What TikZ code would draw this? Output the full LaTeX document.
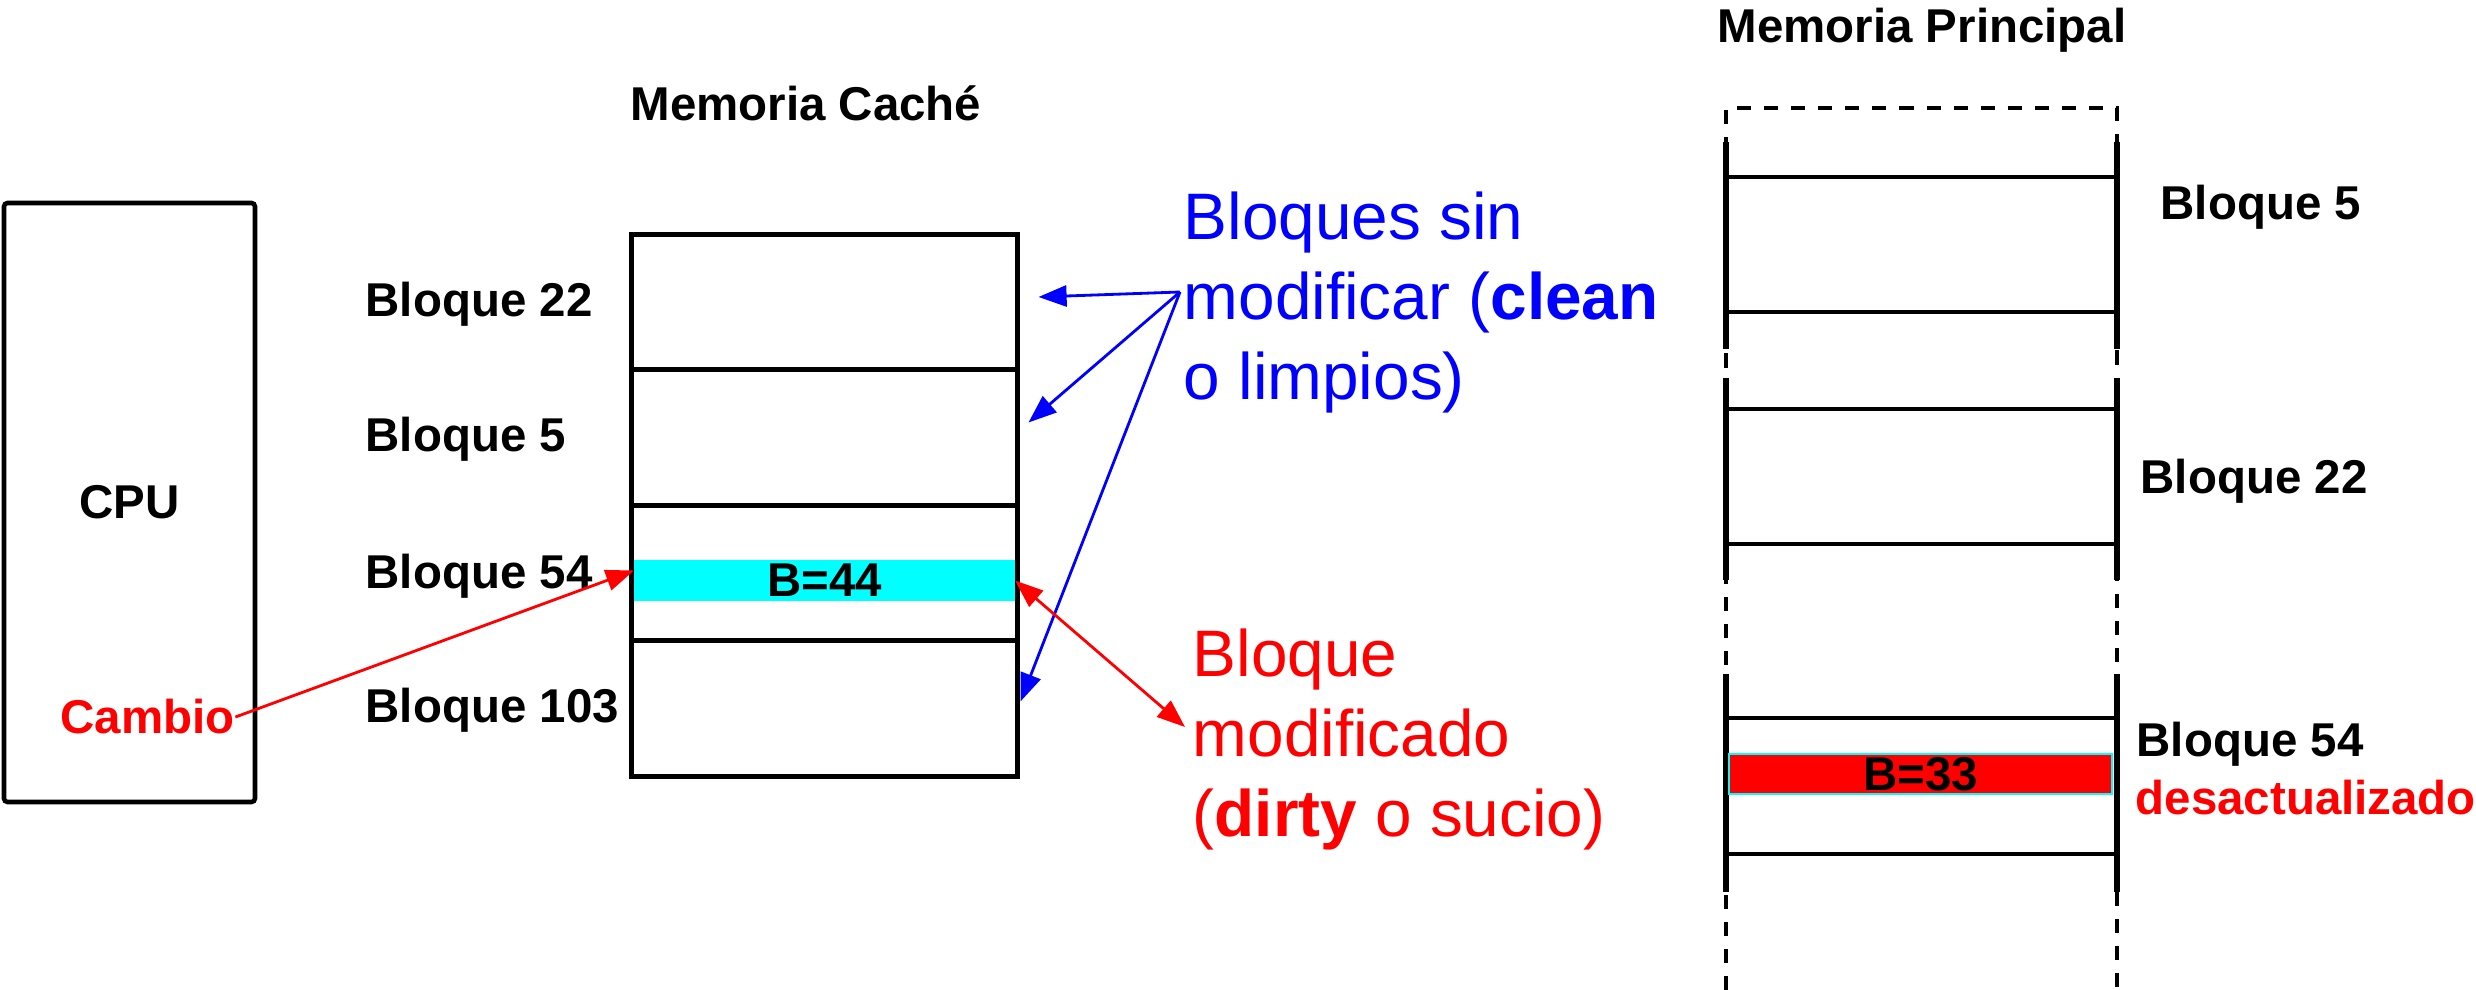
\documentclass[tikz,border=0pt]{standalone}
\usepackage{fontspec}
\setmainfont{Liberation Sans}
\usetikzlibrary{positioning}
\usetikzlibrary{arrows.meta}
\definecolor{aqua}{RGB}{0,255,255}

\begin{document}
\begin{tikzpicture}[
		txt/.style={font=\bfseries\fontsize{13.5}{16}\selectfont},
		lbl/.style={txt, inner sep=0pt, anchor=base west},
		note/.style={font=\fontsize{18.7}{22.8}\selectfont, inner sep=0pt, anchor=base west, align=left},
		row/.style={draw, line width=1.3pt, minimum width=3.86cm, minimum height=1.355cm, inner sep=0pt, outer sep=0pt},
		band/.style={txt, minimum height=0.41cm, inner sep=0pt, outer sep=0pt},
		arr/.style={-{Triangle[length=8pt, width=6pt]}, line width=0.8pt},
	]
		\useasboundingbox (0,0) rectangle (24.76,9.90);
		% CPU
		\node[draw, txt, line width=1.3pt, rounded corners=1pt, minimum width=2.51cm, minimum height=5.99cm] (cpu) at (1.295,4.875) {CPU};
		\node[lbl, text=red] (cambio) at (0.60,2.56) {Cambio};
		% cache
		\node[lbl] (tcache) at (6.30,8.69) {Memoria Caché};
		\node[row] (c1) at (8.245,6.88) {};
		\node[row, below=0pt of c1] (c2) {};
		\node[row, below=0pt of c2] (c3) {};
		\node[row, below=0pt of c3] (c4) {};
		\node[band, fill=aqua, minimum width=3.81cm] (b44) at ([yshift=-0.75mm]c3.center) {B=44};
		\node[lbl] (l22) at (3.65,6.73) {Bloque 22};
		\node[lbl] (l5) at (3.65,5.38) {Bloque 5};
		\node[lbl] (l54) at (3.65,4.01) {Bloque 54};
		\node[lbl] (l103) at (3.65,2.67) {Bloque 103};
		% main memory
		\node[lbl] (tmain) at (17.17,9.47) {Memoria Principal};
		\draw[line width=1.1pt, dash pattern=on 4pt off 3.7pt] (17.26,0) -- (17.26,8.82) -- (21.17,8.82) -- (21.17,0);
		\foreach \ya/\yb/\yc/\yd in {8.48/8.13/6.78/6.41, 6.12/5.81/4.46/4.10, 3.16/2.72/1.36/0.98} {
			\draw[line width=1.6pt] (17.26,\ya) -- (17.26,\yd);
			\draw[line width=1.6pt] (21.17,\ya) -- (21.17,\yd);
			\draw[line width=1.2pt] (17.26,\yb) -- (21.17,\yb);
			\draw[line width=1.2pt] (17.26,\yc) -- (21.17,\yc);
		}
		\node[band, fill=red, draw=aqua, line width=0.4pt, minimum width=3.83cm, minimum height=0.40cm] (b33) at (19.205,2.16) {B=33};
		\node[lbl] (p5) at (21.60,7.70) {Bloque 5};
		\node[lbl] (p22) at (21.40,4.96) {Bloque 22};
		\node[lbl] (p54) at (21.36,2.33) {Bloque 54};
		\node[lbl, text=red] (desact) at (21.35,1.75) {desactualizado};
		% notes (base = last line)
		\node[note, text=blue] (clean) at (11.83,5.90) {Bloques sin\\modificar (\textbf{clean}\\o limpios)};
		\node[note, text=red] (dirty) at (11.92,1.53) {Bloque\\modificado\\(\textbf{dirty} o sucio)};
		\coordinate (cleanfrom) at (11.80,6.98);
		\coordinate (dirtyto) at (11.85,2.63);
		\draw[arr, blue] (cleanfrom) -- ([xshift=2.1mm, yshift=0.5mm]c1.east);
		\draw[arr, blue] (cleanfrom) -- ([xshift=1.1mm, yshift=1.5mm]c2.east);
		\draw[arr, blue] (cleanfrom) -- ([xshift=0.3mm, yshift=0.7mm]c4.east);
		\draw[arr, red, {Triangle[length=8pt, width=6pt]}-{Triangle[length=8pt, width=6pt]}] (b44.east) -- (dirtyto);
		\draw[arr, red] (cambio.east) -- ([yshift=1mm]b44.west);
	\end{tikzpicture}
\end{document}
